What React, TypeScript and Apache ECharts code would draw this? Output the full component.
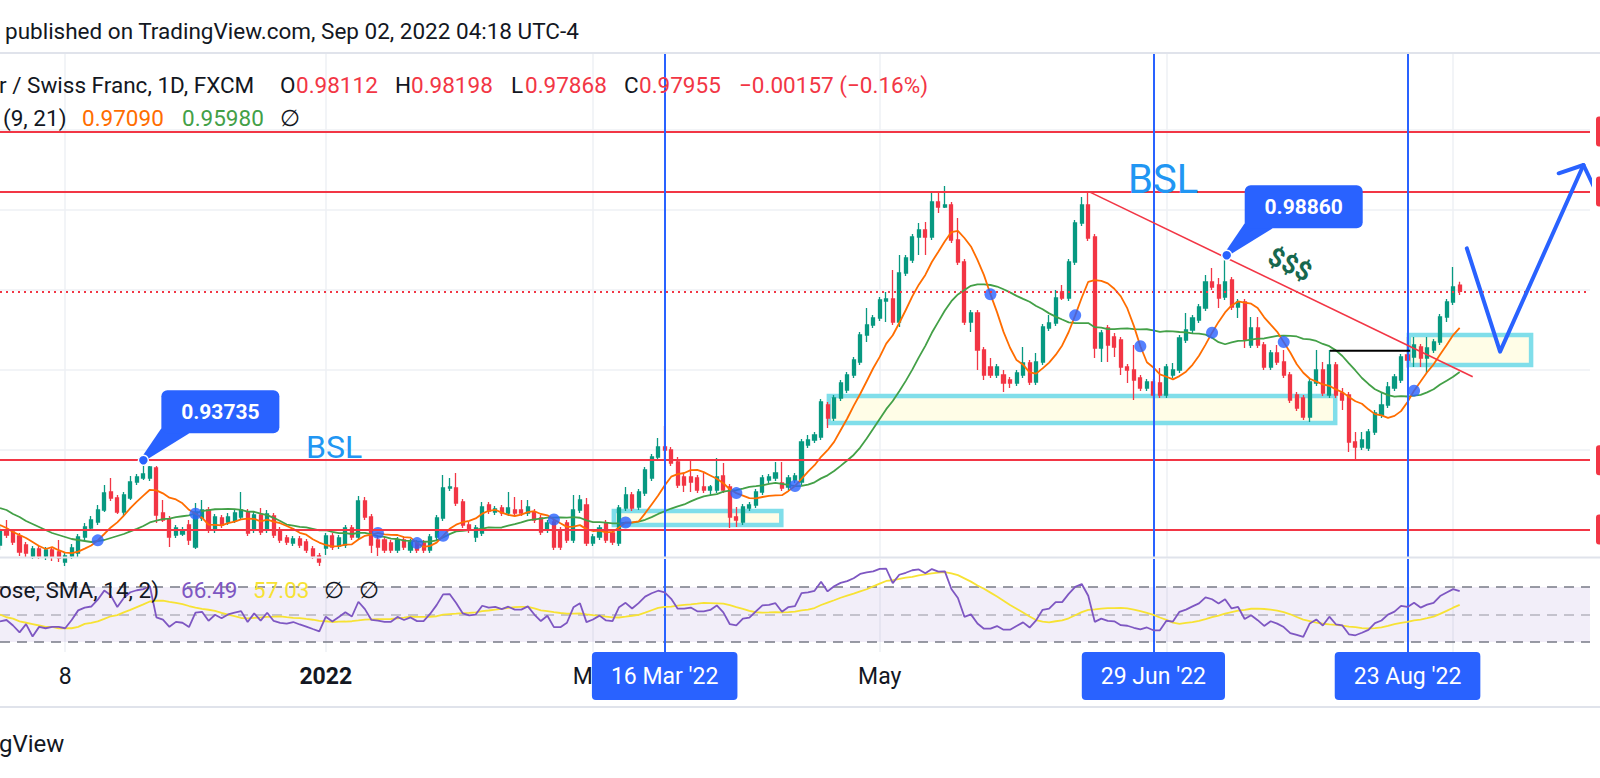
import React, { useEffect, useRef } from "react";
import * as echarts from "echarts";

// ---------- data ----------
const START_DATE = [2021, 9, 25]; // 25 Oct 2021 (UTC, month 0-based)
const TOTAL_BARS = 245; // trading days incl. empty future space

// [open, close, low, high]
const ohlc: number[][] = [
  [0.91615, 0.9199, 0.9149, 0.9214], [0.9199, 0.91865, 0.9179, 0.9224], [0.9194, 0.9169, 0.91615, 0.92015],
  [0.9184, 0.9144, 0.9134, 0.91915], [0.91615, 0.91415, 0.91315, 0.9169], [0.9134, 0.91515, 0.91265, 0.9159],
  [0.91515, 0.9134, 0.91265, 0.9159], [0.9134, 0.9149, 0.9124, 0.91565], [0.9149, 0.91315, 0.91215, 0.91565],
  [0.9144, 0.9129, 0.9119, 0.9174], [0.9119, 0.9134, 0.9109, 0.91415], [0.9134, 0.9154, 0.91265, 0.9164],
  [0.91415, 0.91815, 0.91315, 0.9189], [0.91815, 0.92065, 0.9174, 0.92165], [0.9204, 0.9224, 0.91965, 0.9234],
  [0.9219, 0.9249, 0.92115, 0.92615], [0.9249, 0.92915, 0.9244, 0.93115], [0.9294, 0.9279, 0.92715, 0.9329],
  [0.9279, 0.9244, 0.9239, 0.92865], [0.9244, 0.92865, 0.9234, 0.9294], [0.9279, 0.9319, 0.9274, 0.9334],
  [0.9319, 0.93315, 0.93115, 0.9339], [0.9329, 0.9339, 0.9324, 0.93735], [0.9329, 0.93565, 0.93215, 0.9359],
  [0.9354, 0.92365, 0.92165, 0.9359], [0.92415, 0.9224, 0.9219, 0.9274], [0.92265, 0.91815, 0.91565, 0.9234],
  [0.91865, 0.9204, 0.9179, 0.92115], [0.9189, 0.9199, 0.9184, 0.92065], [0.92115, 0.9174, 0.91615, 0.9224],
  [0.91565, 0.9244, 0.91515, 0.92665], [0.9229, 0.9249, 0.92215, 0.9274], [0.9249, 0.9199, 0.91915, 0.92565],
  [0.9199, 0.92315, 0.91915, 0.9239], [0.9229, 0.92115, 0.9204, 0.92365], [0.9219, 0.92315, 0.92115, 0.92415],
  [0.92215, 0.92415, 0.92165, 0.9249], [0.92315, 0.9249, 0.9224, 0.9294], [0.9244, 0.91915, 0.9184, 0.92515],
  [0.9199, 0.92365, 0.91915, 0.9244], [0.92365, 0.9194, 0.91865, 0.9254], [0.9199, 0.9239, 0.91915, 0.9249],
  [0.9234, 0.91865, 0.9179, 0.92415], [0.9199, 0.9174, 0.91665, 0.92065], [0.9179, 0.9169, 0.91615, 0.91865],
  [0.91665, 0.91765, 0.9159, 0.9184], [0.91765, 0.91615, 0.9154, 0.9184], [0.9169, 0.9149, 0.91415, 0.91765],
  [0.91515, 0.9134, 0.91265, 0.9159], [0.9134, 0.9119, 0.9109, 0.91415], [0.9154, 0.9184, 0.91365, 0.91915],
  [0.9184, 0.91565, 0.9149, 0.91915], [0.9159, 0.9179, 0.91515, 0.91865], [0.91615, 0.9204, 0.9154, 0.92115],
  [0.9204, 0.91815, 0.9174, 0.92115], [0.91815, 0.92715, 0.9174, 0.9284], [0.92715, 0.92315, 0.9224, 0.92815],
  [0.92315, 0.91615, 0.91415, 0.9239], [0.9174, 0.91565, 0.9134, 0.91865], [0.9174, 0.9149, 0.91415, 0.91815],
  [0.91665, 0.9149, 0.91415, 0.9174], [0.9149, 0.9174, 0.91415, 0.91815], [0.9174, 0.91565, 0.9149, 0.91815],
  [0.9149, 0.9169, 0.91415, 0.91765], [0.91665, 0.9149, 0.91415, 0.9174], [0.91665, 0.9149, 0.91415, 0.9174],
  [0.9149, 0.91815, 0.91415, 0.9189], [0.91815, 0.9229, 0.9174, 0.92365], [0.9229, 0.9304, 0.92215, 0.93365],
  [0.9304, 0.93065, 0.92965, 0.9329], [0.9304, 0.92665, 0.9259, 0.93415], [0.9269, 0.92115, 0.9204, 0.92765],
  [0.92115, 0.9199, 0.91915, 0.9219], [0.91815, 0.9204, 0.9169, 0.92115], [0.91915, 0.92565, 0.9184, 0.9269],
  [0.92615, 0.92465, 0.9239, 0.9269], [0.9244, 0.92515, 0.92365, 0.9259], [0.9254, 0.92415, 0.9234, 0.92615],
  [0.92415, 0.9254, 0.9234, 0.9294], [0.9249, 0.92415, 0.9234, 0.92815], [0.9249, 0.92415, 0.9234, 0.9274],
  [0.92415, 0.92565, 0.9234, 0.9274], [0.9244, 0.9224, 0.92165, 0.92515], [0.9229, 0.9194, 0.91865, 0.92365],
  [0.9199, 0.92165, 0.91915, 0.9224], [0.9219, 0.91565, 0.9149, 0.92265], [0.9199, 0.91565, 0.9149, 0.92065],
  [0.92165, 0.9174, 0.91665, 0.9224], [0.9174, 0.9249, 0.91665, 0.92865], [0.9249, 0.9274, 0.92415, 0.92865],
  [0.92615, 0.91665, 0.9159, 0.9279], [0.91665, 0.91815, 0.9159, 0.9189], [0.91815, 0.9204, 0.9174, 0.92115],
  [0.92165, 0.9174, 0.91665, 0.9224], [0.91915, 0.9169, 0.91615, 0.9199], [0.91665, 0.9254, 0.9159, 0.92615],
  [0.9254, 0.92865, 0.92465, 0.93065], [0.92865, 0.9254, 0.92465, 0.9294], [0.92565, 0.9294, 0.9249, 0.93015],
  [0.92915, 0.9349, 0.9284, 0.93565], [0.9329, 0.93815, 0.93215, 0.9389], [0.93815, 0.94065, 0.9374, 0.9429],
  [0.94065, 0.9399, 0.9374, 0.9459], [0.9399, 0.93665, 0.9359, 0.94065], [0.9369, 0.93115, 0.9304, 0.93815],
  [0.93315, 0.93115, 0.9294, 0.9339], [0.93315, 0.9319, 0.9294, 0.9374], [0.9329, 0.9299, 0.92915, 0.93365],
  [0.93065, 0.9299, 0.92915, 0.93415], [0.9299, 0.93065, 0.92865, 0.93115], [0.9299, 0.93315, 0.92915, 0.9379],
  [0.9334, 0.9299, 0.92915, 0.93665], [0.93065, 0.92315, 0.9204, 0.9314], [0.92315, 0.9224, 0.92065, 0.92565],
  [0.9219, 0.92565, 0.92115, 0.9264], [0.9254, 0.92615, 0.92465, 0.9269], [0.92615, 0.9294, 0.9254, 0.93015],
  [0.9294, 0.9329, 0.92865, 0.93365], [0.9324, 0.93315, 0.93165, 0.9339], [0.9329, 0.93415, 0.93215, 0.9369],
  [0.93165, 0.9304, 0.92965, 0.9369], [0.93065, 0.9329, 0.9299, 0.93365], [0.9324, 0.9334, 0.93165, 0.93415],
  [0.9319, 0.9419, 0.93115, 0.94265], [0.94115, 0.9424, 0.9404, 0.94365], [0.9424, 0.94365, 0.94165, 0.9444],
  [0.94315, 0.9519, 0.9424, 0.95265], [0.95115, 0.9479, 0.9454, 0.9519], [0.9479, 0.9529, 0.94715, 0.95365],
  [0.9529, 0.95665, 0.95215, 0.9574], [0.9549, 0.95865, 0.95415, 0.9594], [0.95865, 0.9624, 0.9579, 0.96315],
  [0.9619, 0.96865, 0.96115, 0.9694], [0.96865, 0.97115, 0.9669, 0.9754], [0.97115, 0.9729, 0.9704, 0.97365],
  [0.9729, 0.9774, 0.97215, 0.97815], [0.97715, 0.97765, 0.9719, 0.9794], [0.97765, 0.9719, 0.97115, 0.9849],
  [0.9719, 0.98415, 0.97065, 0.98865], [0.98415, 0.9879, 0.9834, 0.98865], [0.9874, 0.99315, 0.98665, 0.9939],
  [0.99315, 0.9949, 0.98865, 0.99665], [0.9949, 0.99315, 0.98865, 0.9969], [0.99315, 1.0019, 0.9924, 1.00415],
  [1.0019, 1.00065, 0.99915, 1.00415], [1.00065, 1.00115, 1.0004, 1.0059], [1.00115, 0.9924, 0.99165, 1.0019],
  [0.9924, 0.9869, 0.98615, 0.9979], [0.9869, 0.9719, 0.97115, 0.98765], [0.9719, 0.97415, 0.9694, 0.9749],
  [0.97415, 0.9649, 0.9599, 0.9749], [0.9649, 0.95865, 0.9574, 0.96565], [0.96065, 0.95865, 0.9579, 0.9629],
  [0.95865, 0.96065, 0.9579, 0.9614], [0.95865, 0.95665, 0.9544, 0.9599], [0.9574, 0.95665, 0.9554, 0.95815],
  [0.95665, 0.95915, 0.9559, 0.9599], [0.95865, 0.96165, 0.9579, 0.96565], [0.96165, 0.9569, 0.95615, 0.9624],
  [0.9569, 0.9619, 0.95615, 0.96415], [0.9619, 0.97065, 0.96115, 0.9714], [0.9704, 0.97165, 0.96965, 0.97365],
  [0.97165, 0.9779, 0.9709, 0.9799], [0.9794, 0.9779, 0.9774, 0.98115], [0.9779, 0.9869, 0.97715, 0.98765],
  [0.9869, 0.99665, 0.98615, 0.9974], [0.99665, 1.00115, 0.9959, 1.00315], [1.00115, 0.9929, 0.99215, 1.0044],
  [0.99315, 0.9654, 0.9629, 0.9939], [0.9654, 0.96915, 0.9619, 0.9699], [0.9704, 0.96615, 0.9619, 0.97115],
  [0.96815, 0.96565, 0.96315, 0.96915], [0.9674, 0.96065, 0.95865, 0.96815], [0.96065, 0.9599, 0.95665, 0.9614],
  [0.9599, 0.9574, 0.9524, 0.96615], [0.9579, 0.9554, 0.95465, 0.95865], [0.9554, 0.9569, 0.95465, 0.95765],
  [0.9569, 0.95365, 0.9499, 0.95765], [0.95665, 0.95365, 0.9529, 0.9604], [0.95365, 0.96065, 0.9529, 0.9614],
  [0.95865, 0.9599, 0.9579, 0.96165], [0.9599, 0.9679, 0.95915, 0.96865], [0.9674, 0.9699, 0.96665, 0.97415],
  [0.9699, 0.9729, 0.96915, 0.97365], [0.9724, 0.97565, 0.97165, 0.9764], [0.9754, 0.9819, 0.97465, 0.98365],
  [0.9819, 0.98065, 0.9799, 0.9854], [0.98115, 0.9779, 0.9754, 0.9829], [0.97815, 0.9819, 0.9774, 0.9886],
  [0.9824, 0.97565, 0.9749, 0.98315], [0.97565, 0.9769, 0.9729, 0.97765], [0.9769, 0.9674, 0.9654, 0.97765],
  [0.96615, 0.9704, 0.9654, 0.97315], [0.9704, 0.96615, 0.9654, 0.97315], [0.96615, 0.96065, 0.9599, 0.9669],
  [0.96065, 0.96415, 0.9599, 0.9649], [0.96415, 0.9619, 0.96115, 0.96615], [0.9619, 0.95865, 0.9579, 0.9649],
  [0.95865, 0.9524, 0.95165, 0.9594], [0.95365, 0.9504, 0.94965, 0.9544], [0.9529, 0.94815, 0.9474, 0.95365],
  [0.94815, 0.9569, 0.9469, 0.95765], [0.95665, 0.9599, 0.9559, 0.9649], [0.9599, 0.95415, 0.9534, 0.9619],
  [0.95365, 0.96115, 0.9529, 0.9649], [0.96115, 0.95365, 0.9529, 0.9619], [0.95415, 0.9524, 0.9499, 0.9554],
  [0.95365, 0.9419, 0.9394, 0.9544], [0.9419, 0.94065, 0.93715, 0.9444], [0.94065, 0.9424, 0.9399, 0.9444],
  [0.9404, 0.9444, 0.93965, 0.94515], [0.9444, 0.94915, 0.94365, 0.9499], [0.94865, 0.95115, 0.9479, 0.95415],
  [0.95115, 0.95565, 0.9504, 0.9569], [0.9554, 0.95815, 0.95465, 0.9589], [0.9574, 0.96315, 0.95665, 0.9639],
  [0.96365, 0.9624, 0.9604, 0.96815], [0.96315, 0.96615, 0.96065, 0.96815], [0.96565, 0.9629, 0.96065, 0.9664],
  [0.9629, 0.9654, 0.95915, 0.96815], [0.9649, 0.9669, 0.96415, 0.96765], [0.9669, 0.97315, 0.96615, 0.9739],
  [0.97315, 0.9769, 0.9719, 0.97765], [0.9769, 0.98065, 0.97615, 0.98565], [0.98112, 0.97955, 0.97868, 0.98198],
];

// indicator values visible at the left edge (before a full window exists)
const sma9Lead = [0.92115, 0.9204, 0.9194, 0.91865, 0.9179, 0.9169, 0.9159, 0.91515];
const sma21Lead = [0.9254, 0.9249, 0.9239, 0.92315, 0.92215, 0.9214, 0.92065, 0.9199, 0.91915, 0.91865,
  0.91815, 0.91765, 0.9174, 0.91715, 0.9169, 0.91715, 0.9174, 0.9179, 0.9184, 0.9189];
const rsiLead = [45, 46, 42, 37, 43, 34, 41, 40, 41, 41, 40, 46, 53, 55];
const rsiMaLead = [50, 48, 47, 45, 44, 43, 42, 41, 41, 40, 40, 40, 41];

// axis ticks
const monthLines = ["2021-11-08", "2022-01-03", "2022-03-01", "2022-05-02", "2022-07-01", "2022-09-01"];
const timeTicks = [
  { date: "2021-11-08", text: "8", bold: false },
  { date: "2022-01-03", text: "2022", bold: true },
  { date: "2022-03-01", text: "Mar", bold: false },
  { date: "2022-05-02", text: "May", bold: false },
];
const markedDates = [
  { date: "2022-03-16", text: "16 Mar '22" },
  { date: "2022-06-29", text: "29 Jun '22" },
  { date: "2022-08-23", text: "23 Aug '22" },
];
const priceGridLevels = [0.92, 0.94, 0.96, 0.98, 1.0, 1.02];
const redLevels = [1.0195, 1.0045, 0.93735, 0.92];
const lastClose = 0.97955;

// drawings, in [bar index, price]
const zones = [
  [[94.2, 0.92465], [119.9, 0.92115]],
  [[127.2, 0.9534], [204.9, 0.94665]],
  [[216.2, 0.96865], [234.96, 0.96115]],
];
const trendLine = [[167.1, 1.0045], [226.0, 0.95822]];
const breakLine = [[204.1, 0.9647], [216.4, 0.9647]];
const projection = [[225.1, 0.99032], [230.2, 0.96448], [243.0, 1.01115]];
const arrowHead = [[239.2, 1.00908], [243.0, 1.01115], [244.8, 1.005]];
const callouts = [
  { x: 22, y: 0.93735, text: "0.93735" },
  { x: 188.25, y: 0.9886, text: "0.98860" },
];
const textNotes = [
  { x: 46.96, y: 0.94075, text: "BSL", size: 32 },
  { x: 173.1, y: 1.007625, text: "BSL", size: 40 },
];
const dollarNote = { x: 197.97, y: 0.986375, text: "$$$" };

// ---------- colours ----------
const UP = "#089981";
const DOWN = "#f23645";
const BLUE = "#2962ff";
const ORANGE = "#ff6d00";
const GREEN = "#43a047";
const PURPLE = "#7e57c2";
const YELLOW = "#f7e234";
const INK = "#131722";
const FONT = "Roboto";

function buildCategories(): string[] {
  const out: string[] = [];
  const d = new Date(Date.UTC(START_DATE[0], START_DATE[1], START_DATE[2]));
  while (out.length < TOTAL_BARS) {
    const wd = d.getUTCDay();
    if (wd !== 0 && wd !== 6) out.push(d.toISOString().slice(0, 10));
    d.setUTCDate(d.getUTCDate() + 1);
  }
  return out;
}

const mean = (a: number[]) => a.reduce((s, v) => s + v, 0) / a.length;

export default function App() {
  const ref = useRef<HTMLDivElement>(null);

  useEffect(() => {
    const el = ref.current;
    if (!el) return;
    const chart = echarts.init(el, null, { renderer: "svg" });

    const cats = buildCategories();
    const idx = (d: string) => cats.indexOf(d);
    const n = ohlc.length;
    const closes = ohlc.map((r) => r[1]);

    const sma = (len: number, lead: number[]) =>
      closes.map((_, i) => (i < len - 1 ? lead[i] : mean(closes.slice(i - len + 1, i + 1))));
    const ma9 = sma(9, sma9Lead);
    const ma21 = sma(21, sma21Lead);

    const crosses: number[][] = [];
    for (let i = 1; i < n; i++) {
      const a = ma9[i - 1] - ma21[i - 1];
      const b = ma9[i] - ma21[i];
      if ((a < 0 && b >= 0) || (a > 0 && b <= 0)) crosses.push([i, ma9[i]]);
    }

    // RSI 14 (Wilder) and its SMA 14
    const rsi: number[] = new Array(n).fill(0);
    let ag = 0;
    let al = 0;
    for (let i = 1; i <= 14; i++) {
      const d = closes[i] - closes[i - 1];
      if (d > 0) ag += d;
      else al -= d;
    }
    ag /= 14;
    al /= 14;
    for (let i = 0; i < 14; i++) rsi[i] = rsiLead[i];
    rsi[14] = 100 - 100 / (1 + ag / al);
    for (let i = 15; i < n; i++) {
      const d = closes[i] - closes[i - 1];
      ag = (ag * 13 + Math.max(d, 0)) / 14;
      al = (al * 13 + Math.max(-d, 0)) / 14;
      rsi[i] = al === 0 ? 100 : 100 - 100 / (1 + ag / al);
    }
    const rsiMa = rsi.map((_, i) => (i < 13 ? rsiMaLead[i] : mean(rsi.slice(i - 13, i + 1))));

    const monthSet = new Set(monthLines.map(idx));
    const tickMap = new Map<number, string>();
    timeTicks.forEach((t) => tickMap.set(idx(t.date), t.bold ? `{b|${t.text}}` : `{n|${t.text}}`));
    markedDates.forEach((t) => tickMap.set(idx(t.date), `{hl|${t.text}}`));
    const markedIdx = markedDates.map((t) => idx(t.date));

    const splitLine = {
      show: true,
      interval: (i: number) => monthSet.has(i),
      lineStyle: { color: "#eef0f5", width: 1.5 },
    };

    const blueVertical = markedIdx.map((i) => ({ xAxis: i, lineStyle: { color: BLUE, width: 2, type: "solid" } }));

    const option: any = {
      animation: false,
      backgroundColor: "#ffffff",
      textStyle: { fontFamily: FONT },
      grid: [
        { left: 0, right: 10, top: 53, height: 504 },
        { left: 0, right: 10, top: 559, height: 93 },
      ],
      xAxis: [
        {
          type: "category", gridIndex: 0, data: cats, boundaryGap: false,
          axisLine: { show: false }, axisTick: { show: false }, axisLabel: { show: false }, splitLine,
        },
        {
          type: "category", gridIndex: 1, data: cats, boundaryGap: false,
          axisLine: { show: false }, axisTick: { show: false }, splitLine,
          axisLabel: {
            show: true,
            margin: 0,
            interval: (i: number) => tickMap.has(i),
            formatter: (_v: string, i: number) => tickMap.get(i) || "",
            rich: {
              n: { fontSize: 23, color: INK, height: 48, lineHeight: 48, fontFamily: FONT },
              b: { fontSize: 23, color: INK, height: 48, lineHeight: 48, fontFamily: FONT, fontWeight: "bold" },
              hl: {
                fontSize: 23, color: "#ffffff", height: 48, lineHeight: 48, fontFamily: FONT,
                backgroundColor: BLUE, padding: [0, 19], borderRadius: 4,
              },
            },
          },
        },
        { type: "value", gridIndex: 0, min: 0, max: TOTAL_BARS - 1, show: false },
      ],
      yAxis: [
        { type: "value", gridIndex: 0, min: 0.91315, max: 1.03915, show: false },
        { type: "value", gridIndex: 1, min: 22.73, max: 90.36, show: false },
      ],
      series: [
        {
          name: "SMA 21", type: "line", xAxisIndex: 0, yAxisIndex: 0, data: ma21,
          showSymbol: false, symbol: "none", z: 3,
          lineStyle: { color: GREEN, width: 1.8 },
          markLine: {
            silent: true, z: 1, precision: 6, symbol: ["none", "none"], label: { show: false },
            lineStyle: { color: "#eef0f5", width: 1.5, type: "solid" },
            data: priceGridLevels.map((v) => ({ yAxis: v })),
          },
        },
        {
          name: "USDCHF", type: "candlestick", xAxisIndex: 0, yAxisIndex: 0, data: ohlc,
          barWidth: 3.6, z: 2,
          itemStyle: { color: UP, color0: DOWN, borderColor: UP, borderColor0: DOWN, borderWidth: 1.3 },
        },
        {
          name: "SMA 9", type: "line", xAxisIndex: 0, yAxisIndex: 0, data: ma9,
          showSymbol: false, symbol: "none", z: 3,
          lineStyle: { color: ORANGE, width: 1.8 },
        },
        {
          name: "Cross", type: "scatter", xAxisIndex: 0, yAxisIndex: 0, data: crosses,
          symbol: "circle", symbolSize: 12, z: 4, itemStyle: { color: BLUE },
        },
        {
          name: "Trend", type: "line", xAxisIndex: 2, yAxisIndex: 0, data: trendLine,
          showSymbol: false, symbol: "none", z: 5, clip: false,
          lineStyle: { color: "#f23645", width: 1.6 },
          markArea: {
            silent: true, z: 1,
            itemStyle: { color: "#fffde7", borderColor: "#80deea", borderWidth: 4.5 },
            data: zones.map((z) => [{ coord: z[0] }, { coord: z[1] }]),
          },
          markLine: {
            silent: true, z: 5, precision: 6, symbol: ["none", "none"], label: { show: false },
            data: [
              ...redLevels.map((v) => ({
                yAxis: v,
                lineStyle: { color: "#f23645", width: 2, type: "solid" },
              })),
              { yAxis: lastClose, lineStyle: { color: "#f23645", width: 2, type: [2, 4] } },
              ...blueVertical,
            ],
          },
        },
        {
          name: "Break", type: "line", xAxisIndex: 2, yAxisIndex: 0, data: breakLine,
          showSymbol: false, symbol: "none", z: 5, lineStyle: { color: "#000000", width: 2 },
        },
        {
          name: "Projection", type: "line", xAxisIndex: 2, yAxisIndex: 0, data: projection,
          showSymbol: false, symbol: "none", z: 5, clip: false,
          lineStyle: { color: BLUE, width: 4, cap: "round", join: "round" },
        },
        {
          name: "Arrow", type: "line", xAxisIndex: 2, yAxisIndex: 0, data: arrowHead,
          showSymbol: false, symbol: "none", z: 5, clip: false,
          lineStyle: { color: BLUE, width: 4, cap: "round", join: "round" },
        },
        {
          name: "RSI", type: "line", xAxisIndex: 1, yAxisIndex: 1, data: rsi,
          showSymbol: false, symbol: "none", z: 3, lineStyle: { color: PURPLE, width: 1.8 },
          markArea: {
            silent: true, z: 1, itemStyle: { color: "rgba(126,87,194,0.1)" },
            data: [[{ yAxis: 70 }, { yAxis: 30 }]],
          },
          markLine: {
            silent: true, z: 1, precision: 4, symbol: ["none", "none"], label: { show: false },
            data: [
              { yAxis: 70, lineStyle: { color: "#787b86", width: 1.7, type: [10, 7] } },
              { yAxis: 50, lineStyle: { color: "rgba(120,123,134,0.5)", width: 1.7, type: [10, 7] } },
              { yAxis: 30, lineStyle: { color: "#787b86", width: 1.7, type: [10, 7] } },
              ...blueVertical,
            ],
          },
        },
        {
          name: "RSI MA", type: "line", xAxisIndex: 1, yAxisIndex: 1, data: rsiMa,
          showSymbol: false, symbol: "none", z: 2, lineStyle: { color: YELLOW, width: 1.8 },
        },
      ],
    };

    chart.setOption(option);

    const P = (x: number, y: number) =>
      chart.convertToPixel({ xAxisIndex: 2, yAxisIndex: 0 } as any, [x, y]) as number[];

    const T = (text: string, x: number, y: number, fill: string, size = 22.5, weight = "normal") => ({
      type: "text", x, y, z: 100,
      style: { text, fill, fontSize: size, fontFamily: FONT, fontWeight: weight, align: "left", verticalAlign: "middle" },
    });
    const L = (x1: number, y1: number, x2: number, y2: number) => ({
      type: "line", z: 90, shape: { x1, y1, x2, y2 }, style: { stroke: "#e0e3eb", lineWidth: 2 },
    });

    const g: any[] = [
      L(0, 53, 1600, 53),
      L(0, 557.5, 1600, 557.5),
      L(0, 707, 1600, 707),
      T("published on TradingView.com, Sep 02, 2022 04:18 UTC-4", 5, 31, INK),
      T("r / Swiss Franc, 1D, FXCM", -1, 85, INK),
      T("O", 280, 85, INK), T("0.98112", 296, 85, DOWN),
      T("H", 395, 85, INK), T("0.98198", 411, 85, DOWN),
      T("L", 511, 85, INK), T("0.97868", 525, 85, DOWN),
      T("C", 624, 85, INK), T("0.97955", 639, 85, DOWN),
      T("\u22120.00157 (\u22120.16%)", 739, 85, DOWN),
      T("(9, 21)", 3, 118, INK),
      T("0.97090", 82, 118, ORANGE),
      T("0.95980", 182, 118, GREEN),
      T("\u2205", 280, 118, INK),
      T("ose, SMA, 14, 2)", -1, 590, INK),
      T("66.49", 181, 590, PURPLE),
      T("57.03", 253, 590, YELLOW),
      T("\u2205", 324, 590, INK),
      T("\u2205", 359, 590, INK),
      T("gView", -1, 744, INK, 24),
    ];

    // price-scale label slivers at the cropped right edge
    redLevels.forEach((v) => {
      const [, py] = P(0, v);
      g.push({ type: "rect", z: 95, shape: { x: 1596, y: py - 15, width: 10, height: 30, r: 3 }, style: { fill: DOWN } });
    });

    callouts.forEach((c) => {
      const [px, py] = P(c.x, c.y);
      g.push(
        {
          type: "polygon", z: 100,
          shape: { points: [[px + 18, py - 32], [px + 46, py - 27], [px + 4, py - 1], [px - 1, py - 4]] },
          style: { fill: BLUE },
        },
        { type: "rect", z: 100, shape: { x: px + 18, y: py - 70, width: 118, height: 43, r: 6 }, style: { fill: BLUE } },
        {
          type: "text", z: 101, x: px + 77, y: py - 48.5,
          style: { text: c.text, fill: "#ffffff", fontSize: 21, fontWeight: "bold", fontFamily: FONT, align: "center", verticalAlign: "middle" },
        },
        { type: "circle", z: 101, shape: { cx: px, cy: py, r: 5 }, style: { fill: BLUE, stroke: "#ffffff", lineWidth: 1.5 } },
      );
    });

    textNotes.forEach((t) => {
      const [px, py] = P(t.x, t.y);
      g.push({
        type: "text", z: 100, x: px, y: py,
        style: { text: t.text, fill: "#2196f3", fontSize: t.size, fontFamily: FONT, align: "left", verticalAlign: "middle" },
      });
    });

    {
      const [px, py] = P(dollarNote.x, dollarNote.y);
      g.push({
        type: "text", z: 100, x: px, y: py, rotation: -0.45,
        style: { text: dollarNote.text, fill: "#17684e", fontSize: 26, fontWeight: "bold", fontFamily: FONT, align: "center", verticalAlign: "middle" },
      });
    }

    chart.setOption({ graphic: { elements: g } });

    return () => chart.dispose();
  }, []);

  return (
    <div
      ref={ref}
      style={{ position: "fixed", left: 0, top: 0, width: 1600, height: 778, background: "#ffffff" }}
    />
  );
}
